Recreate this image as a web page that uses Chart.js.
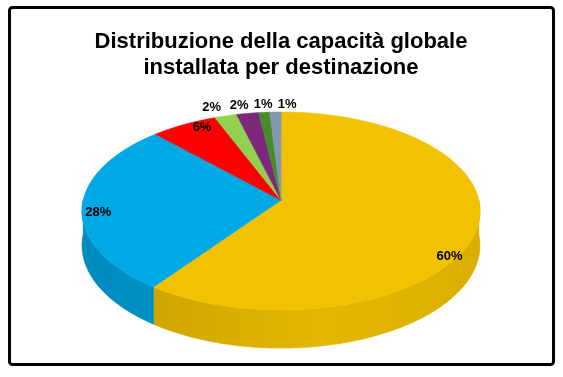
<!DOCTYPE html>
<html><head><meta charset="utf-8">
<script src="https://cdn.jsdelivr.net/npm/chart.js@4"></script>
<style>html,body{margin:0;padding:0;background:#fff}canvas{display:block}</style>
</head><body>
<div style="width:563px;height:377px"><canvas id="c" width="563" height="377"></canvas></div>
<script>
// ---- data ----
const titleLines = ['Distribuzione della capacità globale', 'installata per destinazione'];
const categories = ['Destinazione 1', 'Destinazione 2', 'Destinazione 3', 'Destinazione 4', 'Destinazione 5', 'Destinazione 6', 'Destinazione 7'];
const shares = [60, 28, 6, 2, 2, 1, 1];

// ---- styles ----
const sliceColors = ['rgb(242,194,0)', 'rgb(0,168,230)', 'rgb(255,0,0)', 'rgb(146,208,80)', 'rgb(125,40,125)', 'rgb(70,140,40)', 'rgb(132,151,176)'];

function parseRGB(c){ const m = c.match(/\d+/g).map(Number); return m; }
function shade(c, f){ const [r,g,b] = parseRGB(c); return `rgb(${Math.round(r*f)},${Math.round(g*f)},${Math.round(b*f)})`; }

const pie3d = {
  id: 'pie3d',
  beforeDraw(chart){
    const ctx = chart.ctx;
    ctx.save(); ctx.fillStyle = '#fff'; ctx.fillRect(0,0,chart.width,chart.height); ctx.restore();
  },
  beforeDatasetsDraw(chart, args, opts){
    const ctx = chart.ctx;
    const meta = chart.getDatasetMeta(0);
    const arcs = meta.data;
    if (!arcs.length) return false;
    const R = arcs[0].outerRadius, cx = arcs[0].x, cy = arcs[0].y;
    const k = opts.persp;
    const rx = R * opts.xScale;
    const Fx = rx * Math.sqrt(1 - k*k);
    const Fy = R * (1 - k*k);
    const cy0 = cy - R * k;
    const H = R * opts.depth;
    const proj = (X, Z, h) => { const d = 1 - k*Z; return [cx + Fx*X/d, cy0 + (Fy*Z + H*h)/d]; };
    const step = Math.PI/360;
    ctx.save();
    // sides
    arcs.forEach((a, i) => {
      const base = sliceColors[i];
      for (let n = -1; n <= 1; n++){
        const lo = Math.max(a.startAngle, n*2*Math.PI), hi = Math.min(a.endAngle, n*2*Math.PI + Math.PI);
        if (hi <= lo) continue;
        ctx.beginPath();
        let p;
        for (let t = lo; t < hi; t += step){ p = proj(Math.cos(t), Math.sin(t), 0); ctx.lineTo(p[0], p[1]); }
        p = proj(Math.cos(hi), Math.sin(hi), 0); ctx.lineTo(p[0], p[1]);
        for (let t = hi; t > lo; t -= step){ p = proj(Math.cos(t), Math.sin(t), 1); ctx.lineTo(p[0], p[1]); }
        p = proj(Math.cos(lo), Math.sin(lo), 1); ctx.lineTo(p[0], p[1]);
        ctx.closePath();
        const g = ctx.createLinearGradient(cx - rx, 0, cx + rx, 0);
        g.addColorStop(0, shade(base, 0.82));
        g.addColorStop(0.3, shade(base, 0.88));
        g.addColorStop(0.6, shade(base, 0.94));
        g.addColorStop(1, shade(base, 0.9));
        ctx.fillStyle = g; ctx.strokeStyle = g; ctx.lineWidth = 0.6;
        ctx.fill(); ctx.stroke();
      }
    });
    // tops
    arcs.forEach((a, i) => {
      ctx.beginPath();
      let p = proj(0, 0, 0); ctx.moveTo(p[0], p[1]);
      for (let t = a.startAngle; t < a.endAngle; t += step){ p = proj(Math.cos(t), Math.sin(t), 0); ctx.lineTo(p[0], p[1]); }
      p = proj(Math.cos(a.endAngle), Math.sin(a.endAngle), 0); ctx.lineTo(p[0], p[1]);
      ctx.closePath();
      ctx.fillStyle = sliceColors[i]; ctx.strokeStyle = sliceColors[i]; ctx.lineWidth = 0.6;
      ctx.fill(); ctx.stroke();
    });
    // labels
    const total = shares.reduce((s, v) => s + v, 0);
    ctx.font = opts.labelFont; ctx.fillStyle = '#000'; ctx.textAlign = 'center'; ctx.textBaseline = 'middle';
    const outside = [];
    arcs.forEach((a, i) => {
      const mid = (a.startAngle + a.endAngle)/2;
      const txt = Math.round(shares[i]/total*100) + '%';
      if (shares[i]/total >= 0.05){
        const r = opts.labelR[i];
        const p = proj(r*Math.cos(mid), r*Math.sin(mid), 0);
        ctx.fillText(txt, p[0], p[1] + opts.labelDy[i]);
      } else {
        const p = proj(Math.cos(mid), Math.sin(mid), 0);
        outside.push({txt, x: p[0] + Math.cos(mid)*opts.outPush, y: p[1] - opts.outLift});
      }
    });
    outside.sort((u, v) => u.x - v.x);
    for (let j = 1; j < outside.length; j++){
      if (outside[j].x - outside[j-1].x < opts.outGap) outside[j].x = outside[j-1].x + opts.outGap;
    }
    outside.forEach(o => ctx.fillText(o.txt, o.x, o.y));
    ctx.restore();
    return false;
  },
  afterDraw(chart){
    const ctx = chart.ctx;
    ctx.save();
    ctx.strokeStyle = '#000'; ctx.lineWidth = 3;
    ctx.beginPath();
    ctx.roundRect(9.5, 7.5, 544, 357, 3);
    ctx.stroke();
    ctx.restore();
  }
};

new Chart(document.getElementById('c'), {
  type: 'pie',
  data: {
    labels: categories,
    datasets: [{ data: shares, backgroundColor: sliceColors, borderWidth: 0 }]
  },
  options: {
    responsive: false,
    animation: false,
    layout: { padding: { left: 82, right: 83, top: 0, bottom: 67 } },
    plugins: {
      legend: { display: false },
      tooltip: { enabled: false },
      title: {
        display: true,
        text: titleLines,
        color: '#000',
        font: { family: '"Liberation Sans", Arial, sans-serif', size: 22, weight: 'bold', lineHeight: 26/22 },
        padding: { top: 28.5, bottom: 31.5 }
      },
      pie3d: {
        persp: 0.109, xScale: 2.01, depth: 0.343,
        labelFont: 'bold 13px "Liberation Sans", Arial, sans-serif',
        labelR: [0.87, 0.92, 0.80, 0, 0, 0, 0],
        labelDy: [29, 7, -11, 0, 0, 0, 0],
        outPush: 45, outLift: 8, outGap: 24
      }
    }
  },
  plugins: [pie3d]
});
</script>
</body></html>
